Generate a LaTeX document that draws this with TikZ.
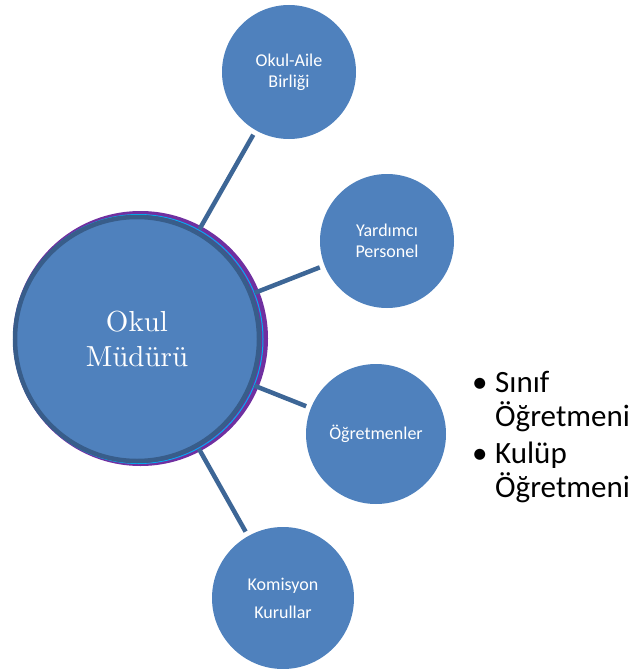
\documentclass[tikz,border=0pt]{standalone}
\usepackage{fontspec}
\newfontfamily\calibri{Carlito}
\newfontfamily\hubfont{lmroman10-regular}[Extension=.otf]
\usetikzlibrary{positioning}
\definecolor{cfill}{HTML}{4F81BD}
\definecolor{cedge}{HTML}{385D8A}
\definecolor{cspoke}{HTML}{3D6696}
\definecolor{cring}{HTML}{7030A0}
\definecolor{ccyan}{HTML}{00B0F0}
\tikzset{
  hub/.style={circle,fill=cfill,draw=cedge,line width=4.5pt,inner sep=0pt,
    minimum size=244pt,text=white,align=center,font=\hubfont\fontsize{29}{35}\selectfont},
  sat/.style={circle,fill=cfill,inner sep=0pt,text=white,align=center,
    font=\calibri\fontsize{18}{21}\selectfont},
  spoke/.style={draw=cspoke,line width=4.5pt,shorten <=2pt,shorten >=5pt}
}
\begin{document}
\begin{tikzpicture}[x=1pt,y=-1pt]
    \useasboundingbox (0,0) rectangle (635,669);
    % ring behind the manager circle
    \fill[cring] (140.5,338.5) circle[radius=127.5pt];
    \draw[ccyan,line width=1pt] (138.5,339) circle[radius=124.5pt];
    \node[hub] (mgr) at (137,339) {Okul\\Müdürü};
    \node[sat,minimum size=134pt] (oab) at (289,72) {Okul-Aile\\Birliği};
    \node[sat,minimum size=134pt] (staff) at (387,241) {Yardımcı\\Personel};
    \node[sat,minimum size=140pt] (teach) at (376,434) {Öğretmenler};
    \node[sat,minimum size=142pt] (board) at (283,598) {Komisyon\\[7pt]Kurullar};
    \draw[spoke] (mgr)--(oab); \draw[spoke] (mgr)--(staff);
    \draw[spoke] (mgr)--(teach); \draw[spoke] (mgr)--(board);
    \node[anchor=base west,inner sep=0pt,font=\calibri\fontsize{31}{31}\selectfont] (roles) at (472,392)
      {\begin{tabular}[t]{@{}p{23pt}@{}l@{}}
        \textbullet & Sınıf\\ & Öğretmeni\\[6pt]
        \textbullet & Kulüp\\ & Öğretmeni
      \end{tabular}};
\end{tikzpicture}
\end{document}
